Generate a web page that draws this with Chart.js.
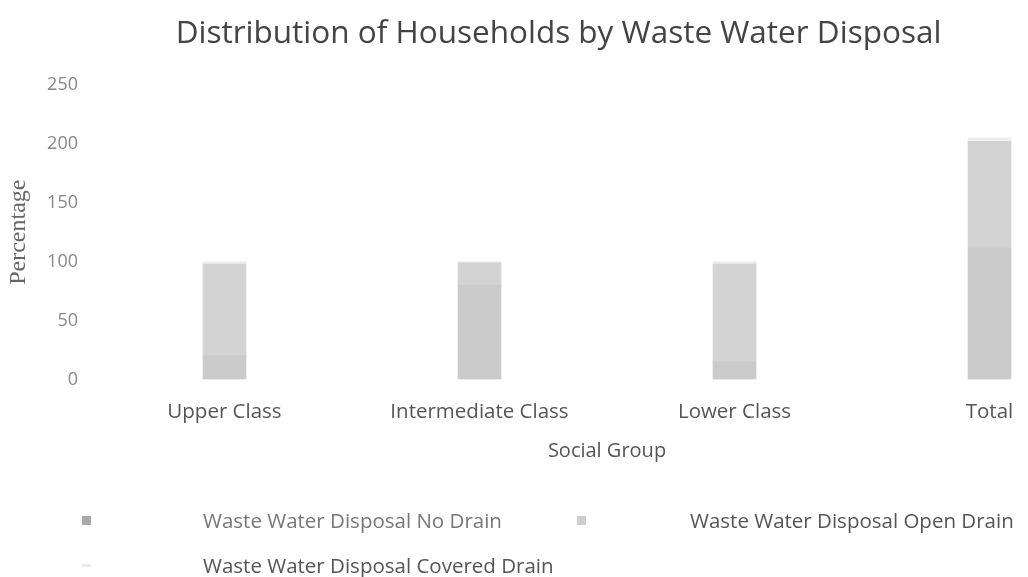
<!DOCTYPE html>
<html>
<head>
<meta charset="utf-8">
<script src="https://cdn.jsdelivr.net/npm/chart.js@4.4.1/dist/chart.umd.min.js"></script>
<style>
  html, body { margin: 0; padding: 0; background: #fff; overflow: hidden; }
  #wrap { position: relative; width: 1028px; height: 577px; overflow: hidden; }
  #chartBox { position: absolute; left: 0; top: 0; width: 1120px; height: 577px; }
  .lg-item { position: absolute; font-family: "Open Sans", sans-serif; font-size: 20.5px; white-space: nowrap; line-height: 24px; }
  .lg-box { position: absolute; width: 9px; height: 9px; }
</style>
</head>
<body>
<div id="wrap">
  <div id="chartBox"><canvas id="graphicFirst" width="1120" height="577"></canvas></div>
  <div id="legendBox"></div>
</div>
<script>
// Distribution of Households by Waste Water Disposal

const categories = ['Upper Class', 'Intermediate Class', 'Lower Class', 'Total'];
const noDrain = [20, 80, 15, 112];
const openDrain = [78, 19, 83, 90];
const coveredDrain = [2, 1, 2, 3];
const yTicks = [0, 50, 100, 150, 200, 250];

const seriesNames = [
  'Waste Water Disposal No Drain',
  'Waste Water Disposal Open Drain',
  'Waste Water Disposal Covered Drain'
];
const barColors = ['#cbcbcb', '#d3d3d3', '#eeeeee'];
const swatchColors = ['#a9a9a9', '#cdcdcd', '#ececec'];

let chart1;
function drawFirstElement(){
  var ctx = document.getElementById('graphicFirst').getContext('2d');
  if (chart1) {
    chart1.destroy();
  }
  chart1 = new Chart(ctx, {
    type: 'bar',
    data: {
      labels: categories,
      datasets: [
        { label: seriesNames[0], data: noDrain, backgroundColor: barColors[0], barThickness: 43 },
        { label: seriesNames[1], data: openDrain, backgroundColor: barColors[1], barThickness: 43 },
        { label: seriesNames[2], data: coveredDrain, backgroundColor: barColors[2], barThickness: 43 }
      ]
    },
    options: {
      responsive: false,
      animation: false,
      layout: { padding: { left: 0, right: 3, bottom: 114, top: 0 } },
      plugins: {
        legend: { display: false },
        tooltip: { enabled: false },
        title: {
          display: true,
          text: 'Distribution of Households by Waste Water Disposal',
          color: '#444',
          font: { family: 'Open Sans', size: 31.5, weight: 'normal' },
          padding: { top: 15, bottom: 32 }
        }
      },
      scales: {
        x: {
          stacked: true,
          grid: { display: false, drawTicks: false },
          border: { display: false },
          ticks: { color: '#555', font: { family: 'Open Sans', size: 20.5, lineHeight: 1 }, padding: 22 },
          title: {
            display: true,
            text: 'Social Group',
            color: '#555',
            font: { family: 'Open Sans', size: 20 },
            padding: { top: -5, bottom: 0 }
          }
        },
        y: {
          stacked: true,
          min: 0,
          max: 250,
          afterBuildTicks: function(scale){
            scale.ticks = yTicks.map(function(v){ return { value: v }; });
          },
          afterFit: function(scale){ scale.width = 97; },
          grid: { display: false, drawTicks: false },
          border: { display: false },
          ticks: { color: '#888', font: { family: 'Open Sans', size: 18 }, padding: 19 },
          title: {
            display: true,
            text: 'Percentage',
            color: '#666',
            font: { family: 'Liberation Serif', size: 24 },
            padding: { top: 4, bottom: 0 }
          }
        }
      }
    }
  });
}

function drawLegend(){
  // legend laid out like the original: two columns, swatch far from text
  var box = document.getElementById('legendBox');
  var spots = [
    { sx: 82, sy: 516, tx: 203, ty: 508, color: '#777' },
    { sx: 577, sy: 516, tx: 690, ty: 508, color: '#555' },
    { sx: 82, sy: 561, tx: 203, ty: 553, color: '#555' }
  ];
  seriesNames.forEach(function(name, i){
    var sw = document.createElement('div');
    sw.className = 'lg-box';
    sw.style.left = spots[i].sx + 'px';
    sw.style.top = spots[i].sy + 'px';
    sw.style.background = swatchColors[i];
    if (i === 2) { sw.style.height = '3px'; sw.style.top = (spots[i].sy + 3) + 'px'; }
    box.appendChild(sw);
    var tx = document.createElement('div');
    tx.className = 'lg-item';
    tx.style.left = spots[i].tx + 'px';
    tx.style.top = spots[i].ty + 'px';
    tx.style.color = spots[i].color;
    tx.textContent = name;
    box.appendChild(tx);
  });
}

drawFirstElement();
drawLegend();
</script>
</body>
</html>
